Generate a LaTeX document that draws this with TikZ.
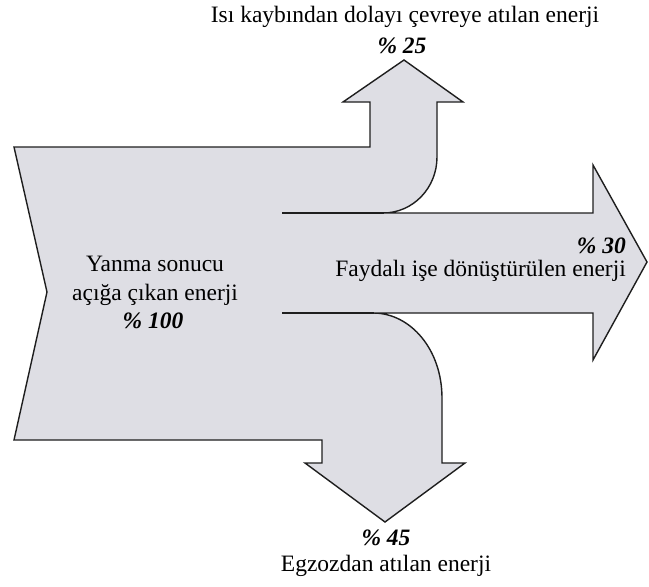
\documentclass[tikz,border=0pt]{standalone}
\usepackage{fontspec}
\setmainfont{Liberation Serif}
\definecolor{flowfill}{RGB}{222,222,228}
\definecolor{flowline}{RGB}{30,30,30}
\begin{document}
\begin{tikzpicture}[x=1pt,y=-1pt,
  flow/.style={fill=flowfill, draw=flowline, line width=1.4pt, line join=miter},
  edgeline/.style={draw=flowline, line width=1.4pt},
  lbl/.style={inner sep=0pt, font=\fontsize{23.5}{28.5}\selectfont},
  pct/.style={inner sep=0pt, font=\fontsize{23.5}{28.5}\selectfont\bfseries\itshape}]
\useasboundingbox (0,0) rectangle (649,587);
% whole energy flow
\path[flow] (14,147) -- (370,147) -- (370,102) -- (343,102) -- (404,60) -- (463,102)
  -- (437,102) -- (437,157) .. controls (437,188) and (413,213) .. (383,213)
  -- (593,213) -- (593,165) -- (647,262) -- (593,360) -- (593,313) -- (373,313)
  .. controls (411,313) and (442,350) .. (442,398)
  -- (442,463) -- (465,463) -- (385,522) -- (305,463) -- (322,463) -- (322,440)
  -- (14,440) -- (47,292) -- cycle;
% edges of the useful-work arrow inside the flow
\draw[edgeline] (282,213) -- (384,213);
\draw[edgeline] (282,313) -- (374,313);
% labels
\node[lbl] (heat) at (405,17) {Isı kaybından dolayı çevreye atılan enerji};
\node[pct] (heatpct) at (402,46) {\% 25};
\node[lbl, align=center] (input) at (155,281) {Yanma sonucu\\açığa çıkan enerji};
\node[pct] (inputpct) at (153,321) {\% 100};
\node[pct, anchor=east] (workpct) at (626,246) {\% 30};
\node[lbl, anchor=east] (work) at (626,271) {Faydalı işe dönüştürülen enerji};
\node[pct] (exhaustpct) at (386,538) {\% 45};
\node[lbl] (exhaust) at (386,566) {Egzozdan atılan enerji};
\end{tikzpicture}
\end{document}
